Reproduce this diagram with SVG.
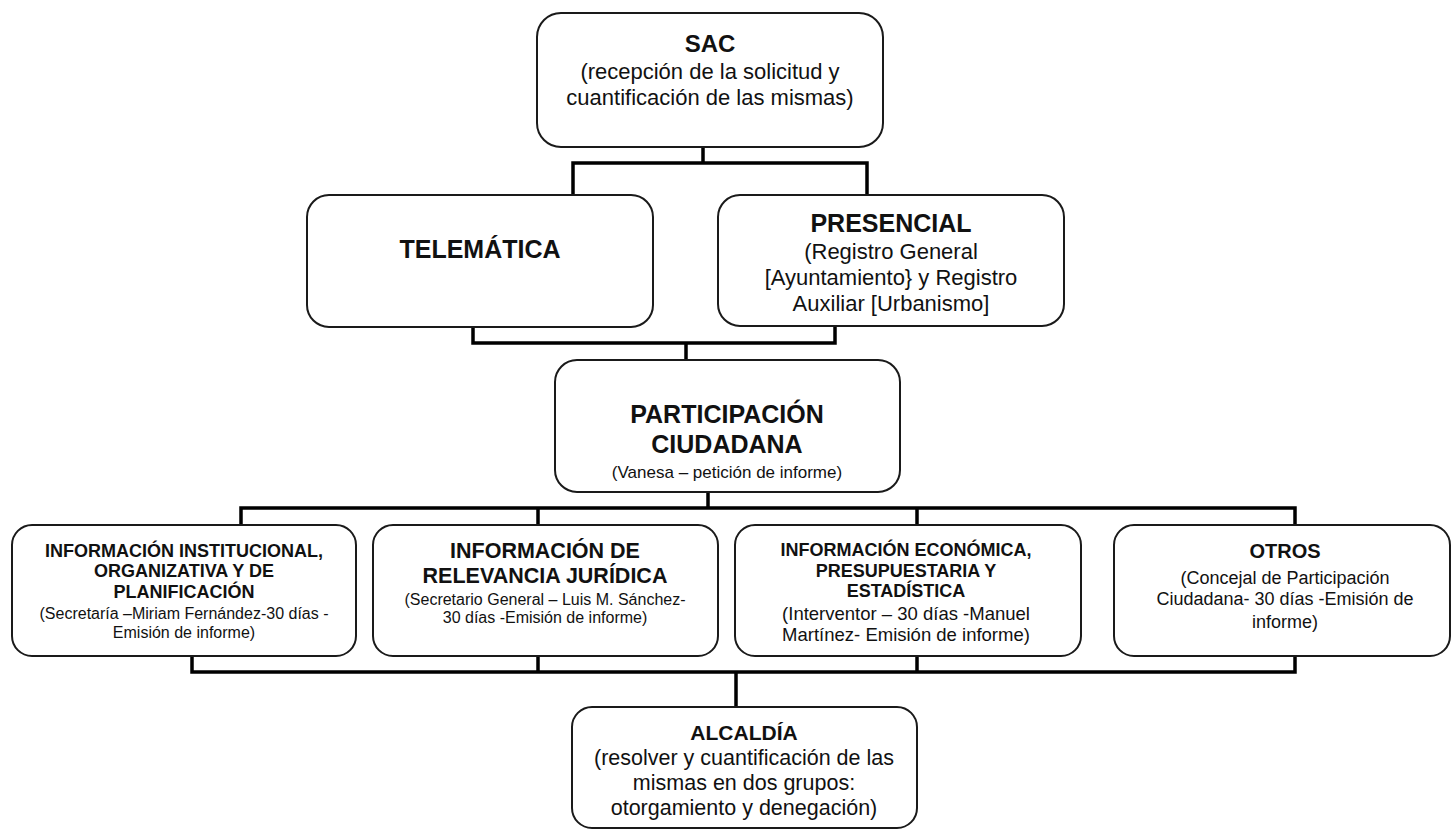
<svg xmlns="http://www.w3.org/2000/svg" width="1453" height="831" viewBox="0 0 1453 831">
<style>
.box{fill:#fff;stroke:#1a1a1a;stroke-width:2}
.con{fill:none;stroke:#000;stroke-width:3.5;stroke-linejoin:miter;stroke-linecap:square}
text{font-family:"Liberation Sans",Arial,sans-serif;fill:#111;text-anchor:middle}
.h{font-weight:bold}
</style>
<rect width="1453" height="831" fill="#fff"/>
<g id="connectors">
<path class="con" d="M703,147 V163 M573,163 H867 M573,163 V195 M867,163 V195"/>
<path class="con" d="M473,327 V343 H835 V327 M686,343 V360"/>
<path class="con" d="M708,492 V508 M241,508 H1295 M241,508 V525 M538,508 V525 M917,508 V525 M1295,508 V525"/>
<path class="con" d="M192,656 V672 M538,656 V672 M917,656 V672 M1295,656 V672 M192,672 H1295 M736,672 V707"/>
</g>
<g id="sac">
<rect class="box" x="537" y="13" width="346" height="134" rx="24"/>
<text class="h" x="710" y="52" font-size="24">SAC</text>
<text x="710" y="79" font-size="22">(recepción de la solicitud y</text>
<text x="710" y="105" font-size="22">cuantificación de las mismas)</text>
</g>
<g id="telematica">
<rect class="box" x="307" y="195" width="346" height="132" rx="22"/>
<text class="h" x="480" y="258" font-size="25">TELEMÁTICA</text>
</g>
<g id="presencial">
<rect class="box" x="718" y="195" width="346" height="131" rx="22"/>
<text class="h" x="891" y="232" font-size="25">PRESENCIAL</text>
<text x="891" y="259" font-size="22">(Registro General</text>
<text x="891" y="285" font-size="22">[Ayuntamiento} y Registro</text>
<text x="891" y="311" font-size="22">Auxiliar [Urbanismo]</text>
</g>
<g id="participacion">
<rect class="box" x="555" y="360" width="345" height="132" rx="22"/>
<text class="h" x="727" y="423" font-size="25">PARTICIPACIÓN</text>
<text class="h" x="727" y="453" font-size="25">CIUDADANA</text>
<text x="727" y="478" font-size="17">(Vanesa – petición de informe)</text>
</g>
<g id="info-institucional">
<rect class="box" x="12" y="525" width="344" height="131" rx="20"/>
<text class="h" x="184" y="557" font-size="18">INFORMACIÓN INSTITUCIONAL,</text>
<text class="h" x="184" y="577" font-size="18">ORGANIZATIVA Y DE</text>
<text class="h" x="184" y="598" font-size="18">PLANIFICACIÓN</text>
<text x="184" y="619" font-size="16">(Secretaría –Miriam Fernández-30 días -</text>
<text x="184" y="638" font-size="16">Emisión de informe)</text>
</g>
<g id="info-juridica">
<rect class="box" x="373" y="525" width="345" height="131" rx="20"/>
<text class="h" x="545" y="558" font-size="21.5">INFORMACIÓN DE</text>
<text class="h" x="545" y="583" font-size="21.5">RELEVANCIA JURÍDICA</text>
<text x="545" y="605" font-size="16">(Secretario General – Luis M. Sánchez-</text>
<text x="545" y="623" font-size="16">30 días -Emisión de informe)</text>
</g>
<g id="info-economica">
<rect class="box" x="735" y="525" width="346" height="131" rx="20"/>
<text class="h" x="906" y="556" font-size="18">INFORMACIÓN ECONÓMICA,</text>
<text class="h" x="906" y="577" font-size="18">PRESUPUESTARIA Y</text>
<text class="h" x="906" y="597" font-size="18">ESTADÍSTICA</text>
<text x="906" y="620" font-size="18.5">(Interventor – 30 días -Manuel</text>
<text x="906" y="641" font-size="18.5">Martínez- Emisión de informe)</text>
</g>
<g id="otros">
<rect class="box" x="1114" y="525" width="336" height="131" rx="20"/>
<text class="h" x="1285" y="558" font-size="20">OTROS</text>
<text x="1285" y="584" font-size="18">(Concejal de Participación</text>
<text x="1285" y="605" font-size="18">Ciudadana- 30 días -Emisión de</text>
<text x="1285" y="628" font-size="18">informe)</text>
</g>
<g id="alcaldia">
<rect class="box" x="572" y="707" width="345" height="121" rx="20"/>
<text class="h" x="744" y="740" font-size="21">ALCALDÍA</text>
<text x="744" y="765" font-size="21.5">(resolver y cuantificación de las</text>
<text x="744" y="790" font-size="21.5">mismas en dos grupos:</text>
<text x="744" y="815" font-size="21.5">otorgamiento y denegación)</text>
</g>
</svg>
